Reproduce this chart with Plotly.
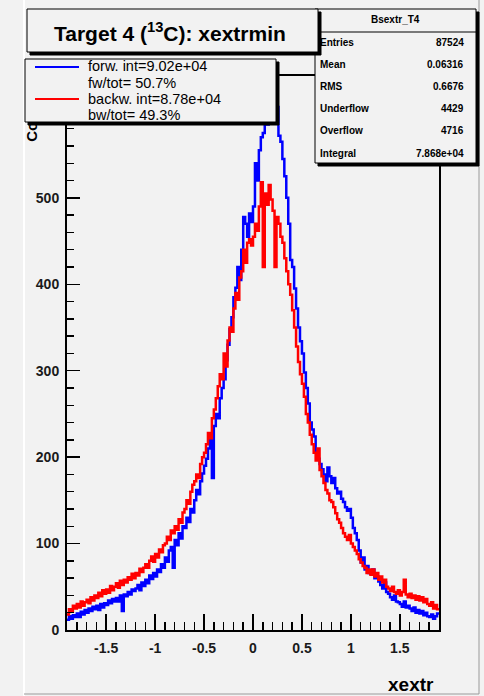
import numpy as np
import plotly.graph_objects as go

# ---------------- data ----------------
X_MIN, X_MAX = -1.9, 1.9
Y_MAX = 641

forward_counts = [
    12, 16, 13, 17, 15,   19, 15, 21, 18, 23,   20, 25, 22, 27, 24,   28, 23, 30, 26, 31,
    29, 34, 31, 36, 33,   37, 33, 40, 22, 41,   39, 44, 41, 47, 45,   48, 52, 46, 55, 51,
    58, 54, 63, 59, 66,   62, 70, 67, 76, 72,   84, 79, 92, 96, 72,   104, 98, 112, 106, 120,
    118, 130, 125, 140, 136,   150, 162, 157, 172, 181,   190, 198, 210, 222, 176,
    236, 250, 245, 268, 280,   290, 312, 330, 348, 362,   385, 396, 420, 405, 440,
    478, 470, 455, 482, 472,   490, 540, 520, 555, 570,   575, 598, 585, 612, 600,
    618, 595, 605, 572, 565,   545, 525, 500, 470, 428,   420, 395, 372, 350, 334,
    320, 298, 280, 262, 240,   232, 224, 205, 198, 192,   186, 180, 172, 188, 178,
    170, 176, 164, 158, 160,   152, 148, 142, 138, 140,   130, 118, 112, 104, 92,
    78, 84, 70, 74, 66,   65, 70, 60, 62, 56,   52, 48, 55, 44, 42,   38, 35, 40, 33, 32,
    30, 27, 33, 26, 28,   25, 22, 26, 20, 23,   19, 22, 17, 20, 16,   15, 18, 13, 16, 19,
]

backward_counts = [
    18, 24, 21, 28, 25,   30, 26, 33, 28, 32,   35, 31, 38, 34, 40,   37, 43, 39, 46, 42,
    47, 43, 51, 46, 50,   54, 49, 57, 52, 58,   55, 61, 58, 65, 60,   66, 63, 71, 67, 72,
    76, 72, 80, 85, 79,   88, 84, 93, 90, 98,   100, 108, 104, 115, 112,   120, 116, 128, 124, 136,
    140, 150, 146, 160, 168,   172, 180, 176, 192, 200,   205, 215, 228, 222, 245,
    255, 268, 282, 296, 290,   320, 305, 335, 350, 345,   372, 390, 382, 408, 415,
    440, 425, 448, 452, 445,   455, 470, 462, 490, 518,   420, 505, 492, 515, 498,
    485, 420, 478, 470, 455,   448, 430, 415, 400, 388,   370, 350, 328, 310, 296,
    285, 270, 250, 240, 226,   215, 205, 196, 210, 185,   178, 170, 162, 158, 150,
    148, 142, 135, 128, 124,   118, 112, 108, 104, 110,   100, 96, 92, 88, 82,
    78, 74, 72, 66, 70,   64, 70, 62, 66, 58,   62, 55, 58, 50, 48,   45, 50, 44, 42, 46,
    40, 44, 58, 41, 38,   42, 37, 40, 35, 39,   34, 38, 32, 36, 30,   28, 32, 25, 29, 24,
]

X_TICK_VALUES = [-1.5, -1, -0.5, 0, 0.5, 1, 1.5]
X_TICK_LABELS = ["-1.5", "-1", "-0.5", "0", "0.5", "1", "1.5"]
Y_TICK_VALUES = [0, 100, 200, 300, 400, 500]
Y_TICK_LABELS = ["0", "100", "200", "300", "400", "500"]

TITLE = "Target 4 (<sup>13</sup>C): xextrmin"
X_TITLE = "xextr"
Y_TITLE = "Counts"
STATS_NAME = "Bsextr_T4"
STATS_LABELS = ["Entries", "Mean", "RMS", "Underflow", "Overflow", "Integral"]
STATS_VALUES = ["87524", "0.06316", "0.6676", "4429", "4716", "7.868e+04"]
LEGEND_NAMES = ["forw. int=9.02e+04", "backw. int=8.78e+04"]
LEGEND_RATIOS = ["fw/tot= 50.7%", "bw/tot= 49.3%"]
SERIES_COLORS = ["#0000ff", "#ff0000"]

# ---------------- layout helpers (pixel -> paper) ----------------
W_PX, H_PX = 484, 696
L, R, T, B = 67, 439, 76, 630
BG = "#f2f2f2"
FONT = "Liberation Sans, Arial, Helvetica, sans-serif"


def fx(p):
    return (p - L) / (R - L)


def fy(p):
    return (B - p) / (B - T)


fig = go.Figure()

edges = np.linspace(X_MIN, X_MAX, len(forward_counts) + 1)
for counts, color, name in zip([forward_counts, backward_counts], SERIES_COLORS, LEGEND_NAMES):
    xs = np.append(edges[:-1], edges[-1])
    ys = list(counts) + [counts[-1]]
    fig.add_trace(go.Scatter(x=xs, y=ys, mode="lines", line=dict(shape="hv", color=color, width=2.5),
                             name=name, showlegend=False, hoverinfo="skip"))

shapes = []
annotations = []


def rect(x0, y0, x1, y1, fill, line_color="black", lw=1):
    shapes.append(dict(type="rect", xref="paper", yref="paper", x0=fx(x0), x1=fx(x1), y0=fy(y1), y1=fy(y0),
                       fillcolor=fill, line=dict(color=line_color, width=lw), layer="above"))


def hline(x0, x1, y, color, lw):
    shapes.append(dict(type="line", xref="paper", yref="paper", x0=fx(x0), x1=fx(x1), y0=fy(y), y1=fy(y),
                       line=dict(color=color, width=lw), layer="above"))


def vline(x, y0, y1, color, lw):
    shapes.append(dict(type="line", xref="paper", yref="paper", x0=fx(x), x1=fx(x), y0=fy(y0), y1=fy(y1),
                       line=dict(color=color, width=lw), layer="above"))


def text(s, x, y, size, xanchor="left", bold=False, color="black", angle=0, yanchor="middle"):
    annotations.append(dict(text=s, xref="paper", yref="paper", x=fx(x), y=fy(y), showarrow=False,
                            xanchor=xanchor, yanchor=yanchor, textangle=angle,
                            font=dict(family=FONT, size=size, color=color, weight="bold" if bold else "normal")))


# canvas bevel
vline(24, 0, 696, "white", 2)
vline(479, 0, 694, "#9a9a9a", 1)
hline(24, 479, 694, "#9a9a9a", 1)

# y axis title: drawn as a shape label so that the legend box (a later shape) hides most of it, as in ROOT
shapes.append(dict(type="rect", xref="paper", yref="paper", x0=fx(21), x1=fx(39), y0=fy(143), y1=fy(89),
                   line=dict(width=0), fillcolor="rgba(0,0,0,0)", layer="above",
                   label=dict(text=Y_TITLE, textangle=-90, textposition="middle center",
                              font=dict(family=FONT, size=15, color="black", weight="bold"))))

# stats box
rect(318, 12, 479, 166, "black", "black", 1)
rect(315, 9, 476, 163, BG, "black", 1)
hline(315, 476, 32, "black", 1)
text(STATS_NAME, 395, 20, 10, xanchor="center", bold=True)
for i, (lab, val) in enumerate(zip(STATS_LABELS, STATS_VALUES)):
    yy = 42 + i * 22.2
    text(lab, 318, yy, 10, bold=True)
    text(val, 466, yy, 10, xanchor="right", bold=True)

# title box
rect(30, 12, 321, 55, "black", "black", 1)
rect(27, 9, 318, 52, BG, "black", 1)
text(TITLE, 170, 32, 21, xanchor="center", bold=True)

# x axis title
text(X_TITLE, 436, 684, 19, xanchor="right", bold=True)

# legend box
rect(28, 62, 279, 125, "black", "black", 1)
rect(25, 59, 276, 122, BG, "black", 1)
legend_line_y = [67, 99]
legend_text_y = [(66.5, 83), (98.5, 115)]
for i in range(2):
    hline(35, 79, legend_line_y[i], SERIES_COLORS[i], 2)
    text(LEGEND_NAMES[i], 86, legend_text_y[i][0], 14.5)
    text(LEGEND_RATIOS[i], 86, legend_text_y[i][1], 14.5)

axis_common = dict(showgrid=False, zeroline=False, showline=True, linecolor="black", linewidth=2,
                   mirror=True, ticks="inside", tickcolor="black", tickwidth=1.5, tickmode="array",
                   tickfont=dict(family=FONT, size=14, color="#1a1a1a", weight="bold"))

fig.update_layout(
    width=W_PX, height=H_PX, autosize=False,
    margin=dict(l=L, r=W_PX - R, t=T, b=H_PX - B, pad=0),
    paper_bgcolor=BG, plot_bgcolor=BG,
    showlegend=False,
    xaxis=dict(range=[X_MIN, X_MAX], tickvals=X_TICK_VALUES, ticktext=X_TICK_LABELS, ticklen=16,
               ticklabelstandoff=4,
               minor=dict(tickmode="array", tickvals=list(np.round(np.arange(-1.9, 1.91, 0.1), 2)),
                          ticks="inside", ticklen=8, tickcolor="black", tickwidth=1.5),
               **axis_common),
    yaxis=dict(range=[0, Y_MAX], tickvals=Y_TICK_VALUES, ticktext=Y_TICK_LABELS, ticklen=13,
               ticklabelstandoff=3,
               minor=dict(tickmode="array", tickvals=list(range(0, 641, 20)),
                          ticks="inside", ticklen=7, tickcolor="black", tickwidth=1.5),
               **axis_common),
    shapes=shapes,
    annotations=annotations,
)

fig.write_html("out.html", config={"displayModeBar": False, "staticPlot": True},
               post_script="document.body.style.margin='0';")
